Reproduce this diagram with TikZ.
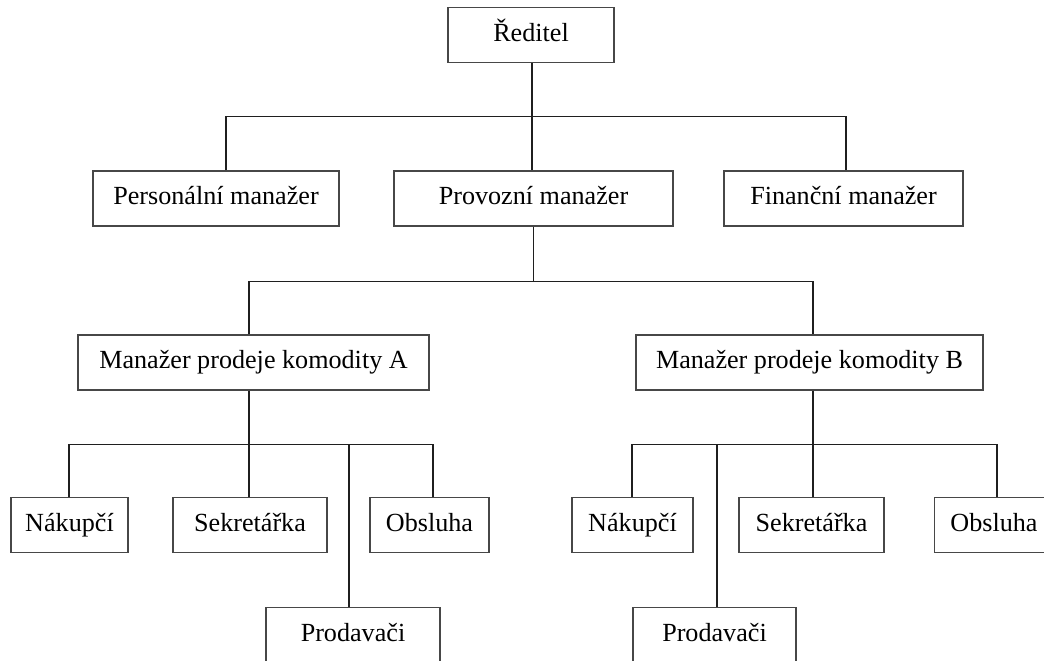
\documentclass[tikz,border=0pt]{standalone}
\usepackage{fontspec}
\setmainfont{Liberation Serif}
\begin{document}
\begin{tikzpicture}[x=0.75pt,y=-0.75pt,
  orgbox/.style={draw=black!72, line width=1.1pt, fill=white, inner sep=0pt,
    minimum height=55*0.75pt, text height=13.5pt, text depth=4pt,
    font=\fontsize{19.6}{23}\selectfont},
  link/.style={draw=black!88, line width=1pt}]
\useasboundingbox (0,0) rectangle (1044,660);
\clip (0,0) rectangle (1044,660);

% top level
\node[orgbox, minimum width=166*0.75pt] (dir) at (531,35) {Ředitel};
\node[orgbox, minimum width=246*0.75pt] (pers) at (216,198.5) {Personální manažer};
\node[orgbox, minimum width=279*0.75pt] (prov) at (533.5,198.5) {Provozní manažer};
\node[orgbox, minimum width=239*0.75pt] (fin) at (843.5,198.5) {Finanční manažer};

% sales managers
\node[orgbox, minimum width=351*0.75pt] (ma) at (253.5,362.5) {Manažer prodeje komodity A};
\node[orgbox, minimum width=347*0.75pt] (mb) at (809.5,362.5) {Manažer prodeje komodity B};

% staff under A
\node[orgbox, minimum width=117*0.75pt] (na) at (69.5,525) {Nákupčí};
\node[orgbox, minimum width=154*0.75pt] (sa) at (250,525) {Sekretářka};
\node[orgbox, minimum width=119*0.75pt] (oa) at (429.5,525) {Obsluha};
\node[orgbox, minimum width=174*0.75pt] (pa) at (353,635) {Prodavači};

% staff under B
\node[orgbox, minimum width=121*0.75pt] (nb) at (632.5,525) {Nákupčí};
\node[orgbox, minimum width=145*0.75pt] (sb) at (811.5,525) {Sekretářka};
\node[orgbox, minimum width=119*0.75pt] (ob) at (994,525) {Obsluha};
\node[orgbox, minimum width=163*0.75pt] (pb) at (714.5,635) {Prodavači};

% director to managers
\path[link] ([xshift=1*0.75pt]dir.south) -- ([xshift=1*0.75pt]dir.south |- prov.north);
\path[link] ([xshift=10*0.75pt]pers.north) -- ++(0,-54) -| ([xshift=2.5*0.75pt]fin.north);

% operations manager to sales managers
\path[link] (prov.south) -- ++(0,55) coordinate (busp);
\path[link] ([xshift=-4.5*0.75pt]ma.north) |- (busp) -| ([xshift=3.5*0.75pt]mb.north);

% sales manager A to staff
\path[link] ([xshift=-4.5*0.75pt]ma.south) -- ++(0,54) coordinate (busa);
\path[link] ([xshift=-0.5*0.75pt]na.north) |- (busa) -| ([xshift=3.5*0.75pt]oa.north);
\path[link] (busa) -- ([xshift=-1*0.75pt]sa.north);
\path[link] ([xshift=-4*0.75pt]pa.north) -- ([xshift=-4*0.75pt]pa.north |- busa);

% sales manager B to staff
\path[link] ([xshift=3.5*0.75pt]mb.south) -- ++(0,54) coordinate (busb);
\path[link] ([xshift=-0.5*0.75pt]nb.north) |- (busb) -| ([xshift=3*0.75pt]ob.north);
\path[link] (busb) -- ([xshift=1.5*0.75pt]sb.north);
\path[link] ([xshift=2.5*0.75pt]pb.north) -- ([xshift=2.5*0.75pt]pb.north |- busb);
\end{tikzpicture}
\end{document}
